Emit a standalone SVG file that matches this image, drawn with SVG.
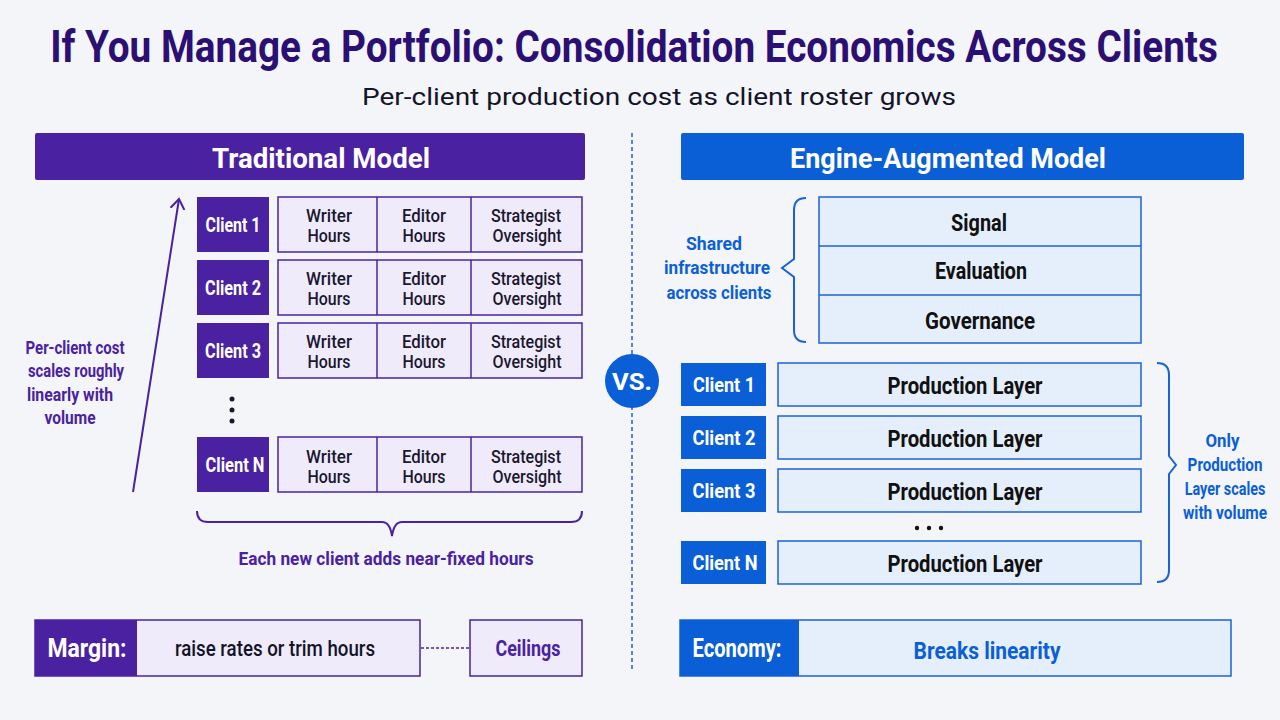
<svg xmlns="http://www.w3.org/2000/svg" width="1280" height="720" viewBox="0 0 1280 720">
<defs>
<style>
text{font-family:Roboto,"Liberation Sans",sans-serif;text-anchor:middle;dominant-baseline:central}
.b{font-weight:700}
.pfill{fill:#4a22a1}
.bfill{fill:#0b5fd6}
.lav{fill:#efebfa;stroke:#4a22a1;stroke-width:1.5}
.lb{fill:#e5eefb;stroke:#1a62d6;stroke-width:1.5}
.wt{fill:#fff;font-weight:700}
.cell{fill:#1b1830;font-weight:500;font-size:18px}
.pl{fill:#111;font-weight:700;font-size:23px}
.pt{fill:#4a22a1;font-weight:700}
.bt{fill:#0b5fd6;font-weight:700}
.ct{font-size:20px}
.ce{font-size:21px}
.n17{font-size:17.5px}
</style>
<marker id="ah" viewBox="0 0 20 20" refX="10" refY="10" markerWidth="20" markerHeight="20" markerUnits="userSpaceOnUse" orient="auto">
<polyline points="0,3 10,10 0,17" fill="none" stroke="#4a22a1" stroke-width="2"/>
</marker>
</defs>
<rect width="1280" height="720" fill="#f4f5f9"/>

<g id="title">
<text transform="translate(634,47) scale(0.75,1)" x="0" y="0" class="b" style="font-size:45px" fill="#2b0f72" textLength="1557" lengthAdjust="spacingAndGlyphs">If You Manage a Portfolio: Consolidation Economics Across Clients</text>
<text x="659" y="97" style="font-size:24px" fill="#141428" textLength="594" lengthAdjust="spacingAndGlyphs">Per-client production cost as client roster grows</text>
</g>

<g id="connectors">
<line x1="632" y1="133" x2="632" y2="672" stroke="#1a62d6" stroke-width="1.5" stroke-dasharray="4,3"/>
<line x1="133" y1="492" x2="179" y2="199" stroke="#4a22a1" stroke-width="2" marker-end="url(#ah)"/>
<path d="M197,511 q0,11 11,11 H382 q8,0 10,14 q2,-14 10,-14 H571 q11,0 11,-11" fill="none" stroke="#4a22a1" stroke-width="2"/>
<line x1="421" y1="648" x2="470" y2="648" stroke="#4a22a1" stroke-width="1.5" stroke-dasharray="3,2"/>
<path d="M806,198 q-12,0 -12,12 V259 l-12,9 l12,9 V330 q0,12 12,12" fill="none" stroke="#1a62d6" stroke-width="2"/>
<path d="M1157,363 q12,0 12,12 V456 l7,9 l-7,9 V570 q0,12 -12,12" fill="none" stroke="#1a62d6" stroke-width="2"/>
</g>

<g id="trad-header">
<rect x="35" y="133" width="550" height="47" rx="2" class="pfill"/>
<text x="321" y="158" class="wt" style="font-size:28px" textLength="218" lengthAdjust="spacingAndGlyphs">Traditional Model</text>
</g>

<g id="engine-header">
<rect x="681" y="133" width="563" height="47" rx="2" class="bfill"/>
<text x="948" y="158" class="wt" style="font-size:28px" textLength="316" lengthAdjust="spacingAndGlyphs">Engine-Augmented Model</text>
</g>

<g id="vs">
<circle cx="632" cy="381" r="27" class="bfill"/>
<text x="632" y="382" class="wt" style="font-size:24px" textLength="40" lengthAdjust="spacingAndGlyphs">VS.</text>
</g>

<g id="cost-note">
<text x="75" y="348" class="pt n17" textLength="99" lengthAdjust="spacingAndGlyphs">Per-client cost</text>
<text x="76" y="371" class="pt n17" textLength="96" lengthAdjust="spacingAndGlyphs">scales roughly</text>
<text x="70" y="395" class="pt n17" textLength="86" lengthAdjust="spacingAndGlyphs">linearly with</text>
<text x="70" y="418" class="pt n17" textLength="51" lengthAdjust="spacingAndGlyphs">volume</text>
</g>

<g id="client1-trad">
<rect x="197" y="197" width="72" height="55" class="pfill"/>
<text x="233" y="225" class="wt ct" textLength="55" lengthAdjust="spacingAndGlyphs">Client 1</text>
<rect x="278" y="197" width="304" height="55" class="lav"/>
<line x1="377" y1="197" x2="377" y2="252" stroke="#4a22a1" stroke-width="1.5"/>
<line x1="471" y1="197" x2="471" y2="252" stroke="#4a22a1" stroke-width="1.5"/>
<text x="329" y="215" class="cell" textLength="46" lengthAdjust="spacingAndGlyphs">Writer</text><text x="329" y="235" class="cell" textLength="43" lengthAdjust="spacingAndGlyphs">Hours</text>
<text x="424" y="215" class="cell" textLength="44" lengthAdjust="spacingAndGlyphs">Editor</text><text x="424" y="235" class="cell" textLength="43" lengthAdjust="spacingAndGlyphs">Hours</text>
<text x="526" y="215" class="cell" textLength="70" lengthAdjust="spacingAndGlyphs">Strategist</text><text x="527" y="235" class="cell" textLength="69" lengthAdjust="spacingAndGlyphs">Oversight</text>
</g>

<g id="client2-trad">
<rect x="197" y="260" width="72" height="55" class="pfill"/>
<text x="233" y="288" class="wt ct" textLength="56" lengthAdjust="spacingAndGlyphs">Client 2</text>
<rect x="278" y="260" width="304" height="55" class="lav"/>
<line x1="377" y1="260" x2="377" y2="315" stroke="#4a22a1" stroke-width="1.5"/>
<line x1="471" y1="260" x2="471" y2="315" stroke="#4a22a1" stroke-width="1.5"/>
<text x="329" y="278" class="cell" textLength="46" lengthAdjust="spacingAndGlyphs">Writer</text><text x="329" y="298" class="cell" textLength="43" lengthAdjust="spacingAndGlyphs">Hours</text>
<text x="424" y="278" class="cell" textLength="44" lengthAdjust="spacingAndGlyphs">Editor</text><text x="424" y="298" class="cell" textLength="43" lengthAdjust="spacingAndGlyphs">Hours</text>
<text x="526" y="278" class="cell" textLength="70" lengthAdjust="spacingAndGlyphs">Strategist</text><text x="527" y="298" class="cell" textLength="69" lengthAdjust="spacingAndGlyphs">Oversight</text>
</g>

<g id="client3-trad">
<rect x="197" y="323" width="72" height="55" class="pfill"/>
<text x="233" y="351" class="wt ct" textLength="56" lengthAdjust="spacingAndGlyphs">Client 3</text>
<rect x="278" y="323" width="304" height="55" class="lav"/>
<line x1="377" y1="323" x2="377" y2="378" stroke="#4a22a1" stroke-width="1.5"/>
<line x1="471" y1="323" x2="471" y2="378" stroke="#4a22a1" stroke-width="1.5"/>
<text x="329" y="341" class="cell" textLength="46" lengthAdjust="spacingAndGlyphs">Writer</text><text x="329" y="361" class="cell" textLength="43" lengthAdjust="spacingAndGlyphs">Hours</text>
<text x="424" y="341" class="cell" textLength="44" lengthAdjust="spacingAndGlyphs">Editor</text><text x="424" y="361" class="cell" textLength="43" lengthAdjust="spacingAndGlyphs">Hours</text>
<text x="526" y="341" class="cell" textLength="70" lengthAdjust="spacingAndGlyphs">Strategist</text><text x="527" y="361" class="cell" textLength="69" lengthAdjust="spacingAndGlyphs">Oversight</text>
</g>

<g id="ellipsis-trad" fill="#1b1830">
<circle cx="232" cy="399" r="2.5"/><circle cx="232" cy="410" r="2.5"/><circle cx="232" cy="421" r="2.5"/>
</g>

<g id="clientN-trad">
<rect x="197" y="437" width="72" height="55" class="pfill"/>
<text x="235" y="465" class="wt ct" textLength="59" lengthAdjust="spacingAndGlyphs">Client N</text>
<rect x="278" y="437" width="304" height="55" class="lav"/>
<line x1="377" y1="437" x2="377" y2="492" stroke="#4a22a1" stroke-width="1.5"/>
<line x1="471" y1="437" x2="471" y2="492" stroke="#4a22a1" stroke-width="1.5"/>
<text x="329" y="456" class="cell" textLength="46" lengthAdjust="spacingAndGlyphs">Writer</text><text x="329" y="476" class="cell" textLength="43" lengthAdjust="spacingAndGlyphs">Hours</text>
<text x="424" y="456" class="cell" textLength="44" lengthAdjust="spacingAndGlyphs">Editor</text><text x="424" y="476" class="cell" textLength="43" lengthAdjust="spacingAndGlyphs">Hours</text>
<text x="526" y="456" class="cell" textLength="70" lengthAdjust="spacingAndGlyphs">Strategist</text><text x="527" y="476" class="cell" textLength="69" lengthAdjust="spacingAndGlyphs">Oversight</text>
</g>

<g id="brace-note">
<text x="386" y="558" class="pt" style="font-size:19px" textLength="295" lengthAdjust="spacingAndGlyphs">Each new client adds near-fixed hours</text>
</g>

<g id="margin">
<rect x="35" y="620" width="385" height="56" class="lav"/>
<rect x="35" y="620" width="102" height="56" class="pfill"/>
<text x="87" y="648" class="wt" style="font-size:25px" textLength="79" lengthAdjust="spacingAndGlyphs">Margin:</text>
<text x="275" y="648" fill="#141428" style="font-size:22px;font-weight:500" textLength="200" lengthAdjust="spacingAndGlyphs">raise rates or trim hours</text>
</g>

<g id="ceilings">
<rect x="470" y="620" width="112" height="56" class="lav"/>
<text x="528" y="648" class="pt" style="font-size:22px" textLength="65" lengthAdjust="spacingAndGlyphs">Ceilings</text>
</g>

<g id="shared-note">
<text x="714" y="244" class="bt n17" textLength="56" lengthAdjust="spacingAndGlyphs">Shared</text>
<text x="717" y="268" class="bt n17" textLength="106" lengthAdjust="spacingAndGlyphs">infrastructure</text>
<text x="719" y="293" class="bt n17" textLength="105" lengthAdjust="spacingAndGlyphs">across clients</text>
</g>

<g id="shared-stack">
<rect x="819" y="197" width="322" height="146" class="lb"/>
<line x1="819" y1="246" x2="1141" y2="246" stroke="#1a62d6" stroke-width="1.5"/>
<line x1="819" y1="295" x2="1141" y2="295" stroke="#1a62d6" stroke-width="1.5"/>
<text x="979" y="223" class="pl" textLength="56" lengthAdjust="spacingAndGlyphs">Signal</text>
<text x="981" y="271" class="pl" textLength="92" lengthAdjust="spacingAndGlyphs">Evaluation</text>
<text x="980" y="321" class="pl" textLength="110" lengthAdjust="spacingAndGlyphs">Governance</text>
</g>

<g id="client1-eng">
<rect x="681" y="363" width="85" height="43" class="bfill"/>
<text x="724" y="385" class="wt ce" textLength="62" lengthAdjust="spacingAndGlyphs">Client 1</text>
<rect x="778" y="363" width="363" height="43" class="lb"/>
<text x="965" y="386" class="pl" textLength="155" lengthAdjust="spacingAndGlyphs">Production Layer</text>
</g>
<g id="client2-eng">
<rect x="681" y="416" width="85" height="43" class="bfill"/>
<text x="724" y="438" class="wt ce" textLength="63" lengthAdjust="spacingAndGlyphs">Client 2</text>
<rect x="778" y="416" width="363" height="43" class="lb"/>
<text x="965" y="439" class="pl" textLength="155" lengthAdjust="spacingAndGlyphs">Production Layer</text>
</g>
<g id="client3-eng">
<rect x="681" y="469" width="85" height="43" class="bfill"/>
<text x="724" y="491" class="wt ce" textLength="63" lengthAdjust="spacingAndGlyphs">Client 3</text>
<rect x="778" y="469" width="363" height="43" class="lb"/>
<text x="965" y="492" class="pl" textLength="155" lengthAdjust="spacingAndGlyphs">Production Layer</text>
</g>
<g id="ellipsis-eng" fill="#111">
<circle cx="917" cy="528" r="2.2"/><circle cx="929" cy="528" r="2.2"/><circle cx="941" cy="528" r="2.2"/>
</g>
<g id="clientN-eng">
<rect x="681" y="541" width="85" height="43" class="bfill"/>
<text x="725" y="563" class="wt ce" textLength="65" lengthAdjust="spacingAndGlyphs">Client N</text>
<rect x="778" y="541" width="363" height="43" class="lb"/>
<text x="965" y="564" class="pl" textLength="155" lengthAdjust="spacingAndGlyphs">Production Layer</text>
</g>

<g id="scale-note" transform="translate(1225,0) scale(0.85,1)">
<text x="-3" y="441" class="bt n17" textLength="40" lengthAdjust="spacingAndGlyphs">Only</text>
<text x="0" y="465" class="bt n17" textLength="88" lengthAdjust="spacingAndGlyphs">Production</text>
<text x="0" y="489" class="bt n17" textLength="95" lengthAdjust="spacingAndGlyphs">Layer scales</text>
<text x="0" y="513" class="bt n17" textLength="99" lengthAdjust="spacingAndGlyphs">with volume</text>
</g>

<g id="economy">
<rect x="680" y="620" width="551" height="56" class="lb"/>
<rect x="680" y="620" width="119" height="56" class="bfill"/>
<text x="737" y="648" class="wt" style="font-size:25px" textLength="89" lengthAdjust="spacingAndGlyphs">Economy:</text>
<text x="987" y="651" class="bt" style="font-size:23px" textLength="147" lengthAdjust="spacingAndGlyphs">Breaks linearity</text>
</g>
</svg>
